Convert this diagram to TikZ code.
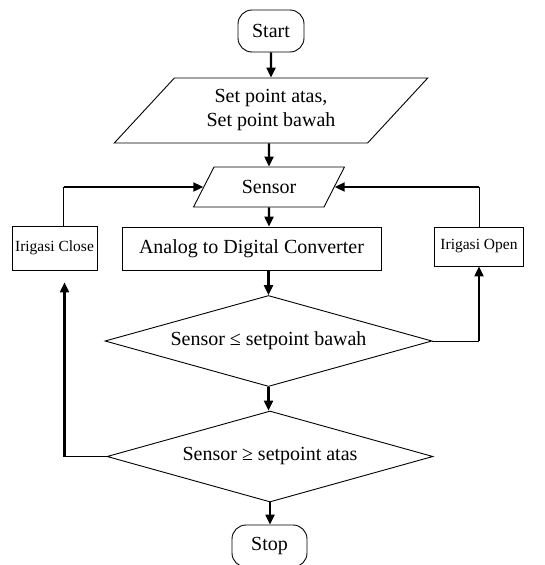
\documentclass[tikz,border=0pt]{standalone}
\usepackage{fontspec}
\setmainfont{Liberation Serif}
\usetikzlibrary{arrows.meta,shapes.geometric}
\tikzset{
  term/.style ={draw, rounded corners=14pt, minimum height=42pt,
                inner sep=0pt, line width=0.9pt,
                font=\fontsize{20}{24}\selectfont},
  io/.style   ={draw, trapezium, trapezium stretches=true, inner sep=0pt,
                line width=0.9pt, font=\fontsize{20}{24}\selectfont},
  proc/.style ={draw, rectangle, inner sep=0pt, line width=0.9pt,
                font=\fontsize{20}{24}\selectfont},
  small/.style={font=\fontsize{15.5}{18}\selectfont},
  dec/.style  ={draw, diamond, aspect=3.6, inner sep=0pt,
                line width=0.9pt, font=\fontsize{20}{24}\selectfont},
  flow/.style ={-{Triangle[length=10pt,width=9pt]}, line width=2.2pt},
  line/.style ={line width=1pt},
}
\begin{document}
\begin{tikzpicture}[x=1pt,y=-1pt]
  \useasboundingbox (0,0) rectangle (545,565);
  % main column
  \node[term, minimum width=66pt] (start) at (271,31) {Start};
  \node[io, trapezium left angle=46, trapezium right angle=134,
        minimum width=314pt, minimum height=65pt, align=center]
        (setpt) at (271,110.5) {Set point atas,\\Set point bawah};
  \node[io, trapezium left angle=53, trapezium right angle=127,
        minimum width=152pt, minimum height=40pt]
        (sensor) at (269,187) {Sensor};
  \node[proc, minimum width=259pt, minimum height=43pt]
        (adc) at (251.5,248.5) {Analog to Digital Converter};
  \node[dec, minimum width=327pt, minimum height=91pt]
        (cekbawah) at (268.5,341) {Sensor ≤ setpoint bawah};
  \node[dec, minimum width=326pt, minimum height=91pt]
        (cekatas) at (270,456.5) {Sensor ≥ setpoint atas};
  \node[term, minimum width=75pt] (stop) at (269.5,546) {Stop};
  % side boxes
  \node[proc, small, minimum width=85pt, minimum height=44pt]
        (irclose) at (54.5,248) {Irigasi Close};
  \node[proc, small, minimum width=89pt, minimum height=39pt]
        (iropen) at (479,246.5) {Irigasi Open};
  \coordinate (closein) at ([xshift=10pt]irclose.south);
  \coordinate (closeout) at ([xshift=9pt]irclose.north);

  \draw[flow] (start) -- (setpt);
  \draw[flow] (setpt.south -| sensor) -- (sensor);
  \draw[flow] (sensor) -- (sensor |- adc.north);
  \draw[flow] (adc.south -| cekbawah) -- (cekbawah);
  \draw[flow] (cekbawah.south) -- (cekbawah.south |- cekatas.north);
  \draw[flow] (cekatas.south) -- (cekatas.south |- stop.north);

  % loop via Irigasi Open
  \draw[line] (cekbawah.east) -- (cekbawah.east -| iropen.south);
  \draw[flow] (cekbawah.east -| iropen.south) -- (iropen.south);
  \draw[line] (iropen.north) -- (iropen.north |- sensor.east);
  \draw[flow] (iropen.north |- sensor.east) -- (sensor.east);

  % loop via Irigasi Close
  \draw[line] (cekatas.west) -- (cekatas.west -| closein);
  \draw[flow, shorten >=12pt] (cekatas.west -| closein) -- (closein);
  \draw[line] (closeout) -- (closeout |- sensor.west);
  \draw[flow] (closeout |- sensor.west) -- (sensor.west);
\end{tikzpicture}
\end{document}
